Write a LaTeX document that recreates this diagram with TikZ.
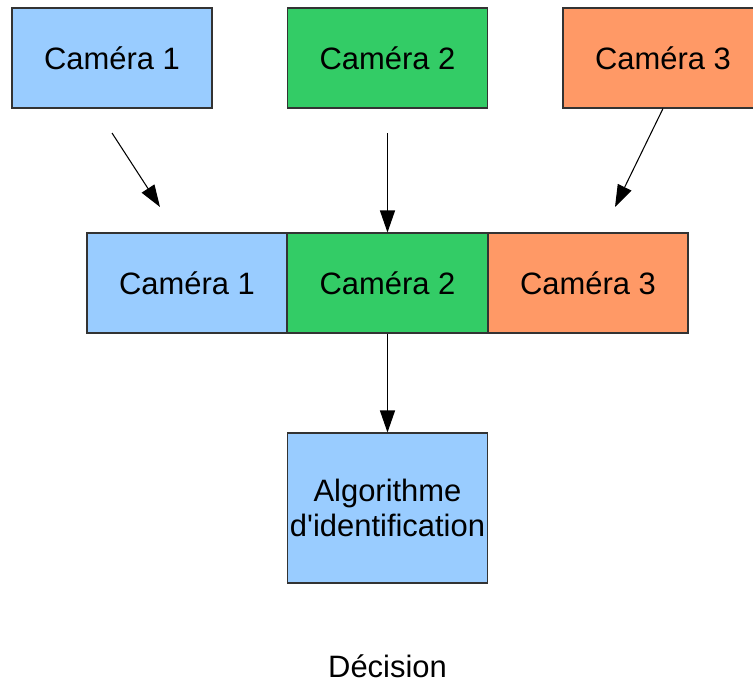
\documentclass[tikz,border=0pt]{standalone}
\usepackage{fontspec}
\setmainfont{Liberation Sans}
\usepackage{tikz}
\usetikzlibrary{arrows.meta, positioning}
\definecolor{camblue}{HTML}{99CCFF}
\definecolor{camgreen}{HTML}{33CC66}
\definecolor{camorange}{HTML}{FF9966}
\definecolor{edgegray}{HTML}{333333}

\tikzset{
    cambox/.style={draw=edgegray, line width=0.6pt, minimum width=4cm, minimum height=2cm, inner sep=0pt, align=center},
    flow/.style={->, line width=0.6pt},
}

\begin{document}
\begin{tikzpicture}[>={Triangle[length=0.44cm, width=0.3cm]}, font=\fontsize{17.6}{20}\selectfont]
    \useasboundingbox (0,0) rectangle (15.06,-13.62);
    \clip (0,0) rectangle (15.06,-13.62);

    % Cameras
    \node[cambox, fill=camblue] (cam1) at (2.24, -1.16) {Caméra 1};
    \node[cambox, fill=camgreen] (cam2) at (7.75, -1.16) {Caméra 2};
    \node[cambox, fill=camorange] (cam3) at (13.26, -1.16) {Caméra 3};

    % Merged row
    \node[cambox, fill=camblue] (mix1) at (3.74, -5.66) {Caméra 1};
    \node[cambox, fill=camgreen] (mix2) at (7.75, -5.66) {Caméra 2};
    \node[cambox, fill=camorange] (mix3) at (11.76, -5.66) {Caméra 3};

    % Identification
    \node[cambox, fill=camblue, minimum height=3cm] (algo) at (7.75, -10.16) {Algorithme\\d\textquotesingle identification};
    \node[anchor=base] (dec) at (7.75, -13.54) {Décision};

    % Arrows
    \coordinate (s1) at (2.24, -2.66);
    \coordinate (e1) at (3.2, -4.14);
    \coordinate (s2) at (7.75, -2.66);
    \coordinate (e3) at (12.3, -4.14);
    \draw[flow] (s1) -- (e1);
    \draw[flow] (s2) -- (mix2.north);
    \draw[flow] (cam3.south) -- (e3);
    \draw[flow] (mix2.south) -- (algo.north);
\end{tikzpicture}
\end{document}
